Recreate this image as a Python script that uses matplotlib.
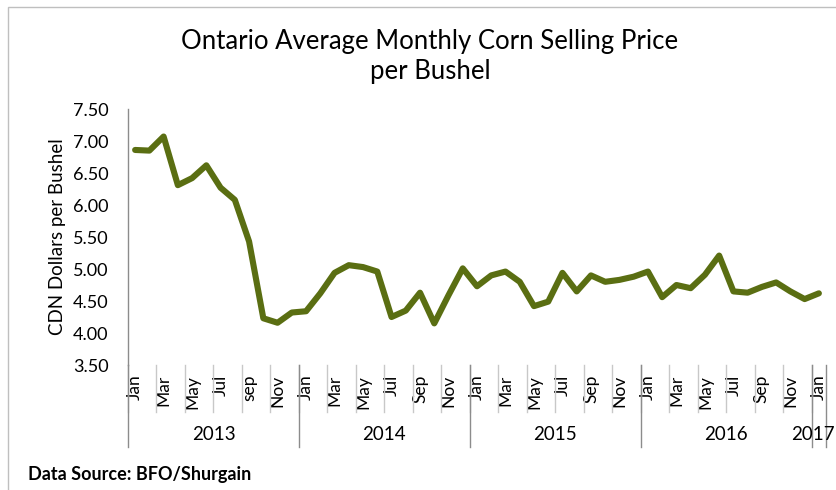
import matplotlib
matplotlib.use("Agg")
import matplotlib.pyplot as plt
from matplotlib.patches import Rectangle
from matplotlib.transforms import blended_transform_factory

plt.rcParams['font.family'] = ['Lato', 'DejaVu Sans']

# ---- data ----
month_names = ['Jan', 'Feb', 'Mar', 'Apr', 'May', 'Jun', 'Jul', 'Aug', 'sep', 'Oct', 'Nov', 'Dec',
               'Jan', 'Feb', 'Mar', 'Apr', 'May', 'Jun', 'Jul', 'Aug', 'Sep', 'Oct', 'Nov', 'Dec',
               'Jan', 'Feb', 'Mar', 'Apr', 'May', 'Jun', 'Jul', 'Aug', 'Sep', 'Oct', 'Nov', 'Dec',
               'Jan', 'Feb', 'Mar', 'Apr', 'May', 'Jun', 'Jul', 'Aug', 'Sep', 'Oct', 'Nov', 'Dec',
               'Jan']
years = ['2013', '2014', '2015', '2016', '2017']
months_per_year = [12, 12, 12, 12, 1]
prices = [6.86, 6.85, 7.07, 6.31, 6.42, 6.62, 6.27, 6.08, 5.43, 4.23, 4.16, 4.32,
          4.34, 4.62, 4.94, 5.06, 5.03, 4.96, 4.25, 4.35, 4.63, 4.15, 4.59, 5.01,
          4.73, 4.90, 4.96, 4.80, 4.42, 4.49, 4.94, 4.65, 4.90, 4.80, 4.83, 4.88,
          4.96, 4.56, 4.75, 4.70, 4.91, 5.21, 4.65, 4.63, 4.72, 4.79, 4.65, 4.53,
          4.62]
ytick_values = [3.50, 4.00, 4.50, 5.00, 5.50, 6.00, 6.50, 7.00, 7.50]
grid_values = [4.00, 4.50, 5.00, 5.50, 6.50, 7.00, 7.50]

W, H = 836, 490
fig = plt.figure(figsize=(W / 100, H / 100), dpi=100)

# outer chart frame
fig.patches.append(Rectangle((8 / W, -0.1), 1.2, (H - 7) / H + 0.1, transform=fig.transFigure,
                             fill=False, edgecolor='#bfbfbf', linewidth=1.0))

ax = fig.add_axes([128 / W, 1 - 365 / H, (826 - 128) / W, (365 - 109) / H])
x = list(range(len(prices)))
ax.plot(x, prices, color='#5a6e12', linewidth=4.4, solid_joinstyle='round',
        solid_capstyle='round', zorder=3)

n = len(prices)
ax.set_xlim(-0.5, n - 0.5)
ax.set_ylim(3.5, 7.5)

for s in ['top', 'right', 'bottom']:
    ax.spines[s].set_visible(False)
ax.spines['left'].set_color('#8c8c8c')
ax.spines['left'].set_linewidth(1.0)

# y ticks
ax.set_yticks(ytick_values)
ax.set_yticklabels([f'{v:.2f}' for v in ytick_values], fontsize=13)
ax.tick_params(axis='y', which='major', length=0, pad=14)
ax.set_yticks(grid_values, minor=True)
ax.tick_params(axis='y', which='minor', length=6, color='#8c8c8c', width=1.0)
ax.yaxis.grid(True, which='minor', color='#8c8c8c', linewidth=1.0)
ax.set_axisbelow(True)
ax.set_ylabel('CDN Dollars per Bushel', fontsize=13.5, labelpad=5)

# x month labels
ax.set_xticks(x[::2])
ax.set_xticklabels(month_names[::2], rotation=90, fontsize=12.5)
ax.tick_params(axis='x', length=0, pad=7)

trans = blended_transform_factory(ax.transData, ax.transAxes)
def ypix(p):
    return (365 - p) / (365 - 109)

# month dividers every 2 categories
for b in range(0, n + 1, 2):
    ax.plot([b - 0.5, b - 0.5], [0, ypix(412)], transform=trans, color='#c8c8c8',
            linewidth=1.0, clip_on=False)
# year dividers and year labels
start = 0
for yr, cnt in zip(years, months_per_year):
    ax.plot([start - 0.5, start - 0.5], [0, ypix(447)], transform=trans, color='#8c8c8c',
            linewidth=1.0, clip_on=False)
    cx = min(start + (cnt - 1) / 2, n - 1.45)
    ax.text(cx, ypix(434), yr, transform=trans, ha='center', va='center',
            fontsize=13.5, clip_on=False)
    start += cnt
ax.plot([n - 0.5, n - 0.5], [0, ypix(447)], transform=trans, color='#8c8c8c',
        linewidth=1.0, clip_on=False)

fig.text(430 / W, 1 - 42 / H, 'Ontario Average Monthly Corn Selling Price',
         ha='center', va='center', fontsize=18.5)
fig.text(430 / W, 1 - 72 / H, 'per Bushel', ha='center', va='center', fontsize=18.5)
fig.text(28 / W, 1 - 474 / H, 'Data Source: BFO/Shurgain', ha='left', va='center',
         fontsize=13, fontweight='bold')

fig.savefig('out.png', dpi=100)
